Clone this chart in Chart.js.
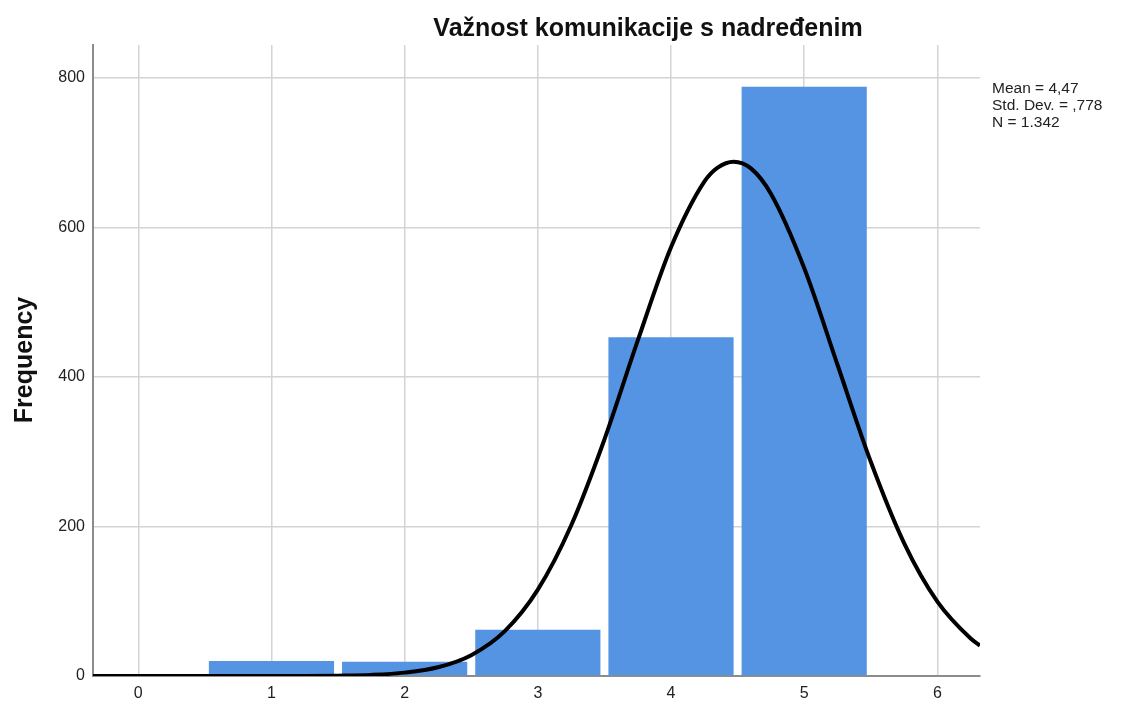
<!DOCTYPE html>
<html>
<head>
<meta charset="utf-8">
<script src="https://cdn.jsdelivr.net/npm/chart.js@4/dist/chart.umd.min.js"></script>
<style>
  html, body { margin: 0; padding: 0; background: #fff; }
  #wrap { width: 1121px; height: 703px; position: relative; }
</style>
</head>
<body>
<div id="wrap"><canvas id="hist"></canvas></div>
<script>
/* SPSS-style histogram with normal curve, Chart.js v4 */
var TITLE = "Važnost komunikacije s nadređenim";
var Y_TITLE = "Frequency";
var STATS = ["Mean = 4,47", "Std. Dev. = ,778", "N = 1.342"];

var BIN_X = [1, 2, 3, 4, 5];
var BIN_FREQ = [20, 19, 62, 453, 788];

// normal curve
var CURVE_X = [-0.34, 0, 0.5, 1, 1.25, 1.5, 1.75, 2, 2.25, 2.5, 2.75, 3, 3.25, 3.5, 3.75, 4, 4.25, 4.35, 4.47, 4.6, 4.75, 5, 5.25, 5.5, 5.75, 6, 6.25, 6.32];
var CURVE_Y = [0, 0, 0, 0, 0.1, 0.5, 1.5, 4.5, 11.7, 27.9, 59.7, 115.5, 201.3, 316.4, 448.5, 573.4, 661.2, 680, 688, 679, 645.1, 545.7, 416.3, 286.5, 177.8, 99.5, 50.2, 40.7];

var X_TICKS = [0, 1, 2, 3, 4, 5, 6];
var Y_TICKS = [0, 200, 400, 600, 800];

var BAR = "#5594e2", GRID = "#d4d4d4", AXIS = "#8c8c8c", INK = "#222";
var FONT = "'Liberation Sans', Arial, sans-serif";

var textPlugin = {
  id: "spssText",
  afterDraw: function (chart) {
    var c = chart.ctx;
    c.save();
    c.fillStyle = "#111";
    c.font = "bold 25px " + FONT;
    c.textAlign = "center";
    c.textBaseline = "alphabetic";
    c.fillText(TITLE, 648, 36);

    c.translate(32, 360);
    c.rotate(-Math.PI / 2);
    c.fillText(Y_TITLE, 0, 0);
    c.restore();

    c.save();
    c.fillStyle = INK;
    c.font = "15.5px " + FONT;
    c.textAlign = "left";
    c.textBaseline = "alphabetic";
    for (var i = 0; i < STATS.length; i++) c.fillText(STATS[i], 992, 93 + i * 17);
    c.restore();
  }
};

new Chart(document.getElementById("hist"), {
  data: {
    datasets: [
      {
        type: "line",
        data: CURVE_X.map(function (x, i) { return { x: x, y: CURVE_Y[i] }; }),
        borderColor: "#000", borderWidth: 4, pointRadius: 0,
        cubicInterpolationMode: "monotone", fill: false, order: 0
      },
      {
        type: "bar",
        data: BIN_X.map(function (x, i) { return { x: x, y: BIN_FREQ[i] }; }),
        backgroundColor: BAR, borderWidth: 0,
        barPercentage: 0.94, categoryPercentage: 1, order: 1
      }
    ]
  },
  plugins: [textPlugin],
  options: {
    responsive: true, maintainAspectRatio: false, animation: false,
    layout: { padding: { top: 45, right: 141, left: 0, bottom: 0 } },
    plugins: { legend: { display: false }, tooltip: { enabled: false }, title: { display: false } },
    scales: {
      x: {
        type: "linear", min: -0.34, max: 6.32, offset: false,
        afterBuildTicks: function (s) { s.ticks = X_TICKS.map(function (v) { return { value: v }; }); },
        afterFit: function (s) { s.height = 27; },
        grid: { color: GRID, lineWidth: 1.5, drawTicks: false, offset: false },
        border: { color: AXIS, width: 2 },
        ticks: { color: INK, font: { family: FONT, size: 16 }, padding: 8, maxRotation: 0 }
      },
      y: {
        min: 0, max: 844,
        afterBuildTicks: function (s) { s.ticks = Y_TICKS.map(function (v) { return { value: v }; }); },
        afterFit: function (s) { s.width = 93; },
        grid: { color: GRID, lineWidth: 1.5, drawTicks: false },
        border: { color: AXIS, width: 2 },
        ticks: { color: INK, font: { family: FONT, size: 16 }, padding: 8 }
      }
    }
  }
});
</script>
</body>
</html>
